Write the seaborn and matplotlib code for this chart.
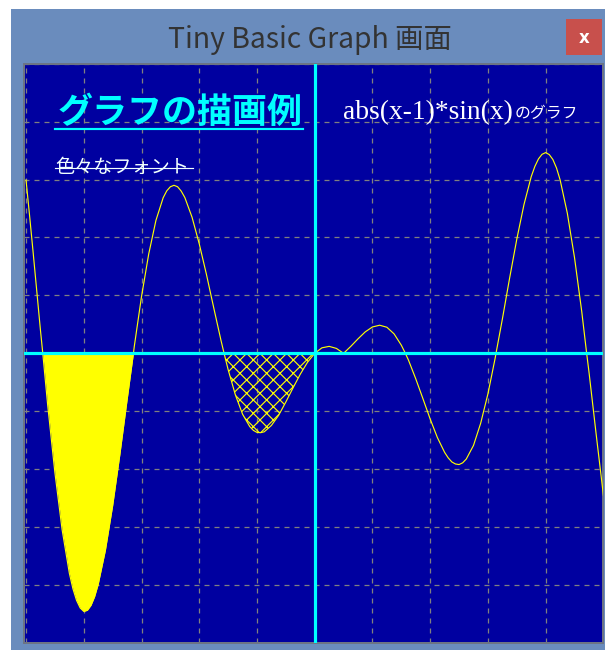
"""Tiny Basic Graph screen: abs(x-1)*sin(x) with a filled and a hatched lobe"""

import matplotlib.pyplot as plt
import matplotlib.patches as mpatches
import matplotlib.lines as mlines
import seaborn as sns
import numpy as np
import pandas as pd

# points of the curve (x in graph units)
xs = [-10, -9.875, -9.75, -9.5, -9.42, -9.25, -9, -8.75, -8.5, -8.375, -8.25,
      -8.125, -8, -7.875, -7.75, -7.625, -7.5, -7.25, -7, -6.75, -6.5, -6.28,
      -6.25, -6, -5.75, -5.5, -5.25, -5.125, -5, -4.875, -4.75, -4.625, -4.5,
      -4.25, -4, -3.75, -3.5, -3.25, -3.14, -3, -2.75, -2.5, -2.25, -2.125, -2,
      -1.875, -1.75, -1.5, -1.25, -1, -0.75, -0.5, -0.25, 0, 0.25, 0.5, 0.75,
      1, 1.25, 1.5, 1.75, 2, 2.25, 2.5, 2.75, 3, 3.14, 3.25, 3.5, 3.75, 4,
      4.25, 4.5, 4.625, 4.75, 4.875, 5, 5.125, 5.25, 5.5, 5.75, 6, 6.25, 6.28,
      6.5, 6.75, 7, 7.25, 7.5, 7.625, 7.75, 7.875, 8, 8.125, 8.25, 8.375, 8.5,
      8.75, 9, 9.25, 9.42, 9.5, 9.75, 10]
ys = [5.98, 4.73, 3.44, 0.79, 0.0, -1.79, -4.12, -6.09, -7.59, -8.13, -8.53,
      -8.79, -8.91, -8.87, -8.70, -8.40, -7.97, -6.79, -5.26, -3.49, -1.61,
      0.0, 0.24, 1.96, 3.43, 4.59, 5.37, 5.61, 5.75, 5.80, 5.75, 5.60, 5.38,
      4.70, 3.78, 2.72, 1.58, 0.46, 0.0, -0.56, -1.43, -2.10, -2.53, -2.66,
      -2.73, -2.74, -2.71, -2.49, -2.14, -1.68, -1.19, -0.72, -0.31, 0.0, 0.19,
      0.24, 0.17, 0.0, 0.24, 0.50, 0.74, 0.91, 0.97, 0.90, 0.67, 0.28, 0.0,
      -0.24, -0.88, -1.57, -2.27, -2.91, -3.42, -3.61, -3.75, -3.82, -3.84,
      -3.78, -3.65, -3.18, -2.41, -1.40, -0.17, 0.0, 1.18, 2.59, 3.94, 5.14,
      6.10, 6.45, 6.71, 6.87, 6.93, 6.86, 6.69, 6.40, 5.99, 4.84, 3.30, 1.44,
      0.0, -0.64, -2.80, -4.90]

solid_span = (-9.42, -6.28)
hatch_span = (-3.14, 0.0)
grid_ticks = list(range(-10, 11, 2))

window_title = "Tiny Basic Graph 画面"
heading = "グラフの描画例"
formula = "abs(x-1)*sin(x)"
formula_suffix = "のグラフ"
font_note = "色々なフォント"

W, H = 605, 650
DPI = 120


def fx(x):
    return x / W


def fy(y):
    return 1 - y / H


plt.rcParams["font.family"] = ["Noto Sans CJK JP", "DejaVu Sans"]
plt.rcParams["hatch.linewidth"] = 0.7

df = pd.DataFrame({"x": xs, "y": ys})

fig = plt.figure(figsize=((W + 0.4) / DPI, (H + 0.4) / DPI), dpi=DPI)
fig.patch.set_facecolor("white")

# window frame and title bar
fig.add_artist(mpatches.Rectangle((fx(11), 0), fx(W - 11), fy(9), transform=fig.transFigure,
                                  facecolor="#6a8cbd", edgecolor="none", zorder=0))
fig.add_artist(mpatches.Rectangle((fx(566), fy(55)), fx(36), 36 / H, transform=fig.transFigure,
                                  facecolor="#c8504c", edgecolor="none", zorder=1))
fig.text(fx(584), fy(38), "x", color="white", fontsize=10, fontweight="bold",
         family=["DejaVu Sans"], ha="center", va="center")
fig.text(fx(168), fy(48), window_title, color="#333333", fontsize=17,
         ha="left", va="baseline")

ax = fig.add_axes([fx(24), fy(643), fx(579), 579 / H])
ax.set_facecolor("#0000a0")
for s in ax.spines.values():
    s.set_color("#6c7484")
    s.set_linewidth(1.2)

ax.fill_between(df["x"], df["y"], 0,
                where=(df["x"] >= solid_span[0]) & (df["x"] <= solid_span[1]),
                color="yellow", linewidth=0, zorder=2)
ax.fill_between(df["x"], df["y"], 0,
                where=(df["x"] >= hatch_span[0]) & (df["x"] <= hatch_span[1]),
                facecolor="none", edgecolor="yellow", hatch="xxx", linewidth=0, zorder=2)
sns.lineplot(data=df, x="x", y="y", ax=ax, color="yellow", linewidth=0.7,
             sort=False, estimator=None, zorder=3)

ax.axhline(0, color="#00ffff", linewidth=1.9, zorder=4)
ax.axvline(0, color="#00ffff", linewidth=1.9, zorder=4)

ax.set_xlim(-10.07, 9.9)
ax.set_ylim(-9.97, 10.0)
ax.set_xticks(grid_ticks)
ax.set_yticks(grid_ticks)
ax.grid(True, color="#808080", linewidth=0.75, linestyle=(0, (4, 4)), zorder=1)
ax.set_axisbelow(True)
ax.tick_params(length=0, labelbottom=False, labelleft=False)
ax.set_xlabel("")
ax.set_ylabel("")

# texts drawn on the graph
fig.text(fx(58), fy(123), heading, color="#00ffff", fontsize=21, fontweight="bold",
         style="italic", ha="left", va="baseline", zorder=5)
fig.add_artist(mlines.Line2D([fx(55), fx(303)], [fy(129), fy(129)], color="#00ffff",
                             linewidth=1.3, transform=fig.transFigure, zorder=5))
fig.text(fx(343), fy(119), formula, color="white", fontsize=16.5,
         family=["Liberation Serif", "DejaVu Serif"], ha="left", va="baseline", zorder=5)
fig.text(fx(514), fy(118), formula_suffix, color="white", fontsize=9.5,
         ha="left", va="baseline", zorder=5)
fig.text(fx(55), fy(173), font_note, color="#f0ffff", fontsize=11.5,
         ha="left", va="baseline", zorder=5)
fig.add_artist(mlines.Line2D([fx(55), fx(193)], [fy(168), fy(168)], color="#f0ffff",
                             linewidth=0.7, transform=fig.transFigure, zorder=5))

fig.savefig("out.png", dpi=DPI)
plt.close(fig)
